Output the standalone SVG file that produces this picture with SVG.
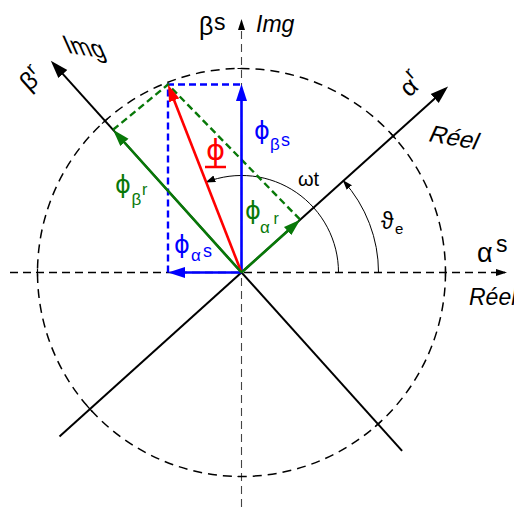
<svg xmlns="http://www.w3.org/2000/svg" width="514" height="507" viewBox="0 0 514 507">
<defs>
<style>
text{font-family:"Liberation Sans","DejaVu Sans",Arial,sans-serif}
.it{font-style:italic}
.phi{font-family:"DejaVu Sans","Liberation Sans",sans-serif}
.dax{stroke:#000;stroke-width:1.3;stroke-dasharray:8 5;fill:none}
.vax{stroke:#444;stroke-width:1.1;stroke-dasharray:8 5;fill:none}
.circ{stroke:#000;stroke-width:1.5;stroke-dasharray:9 6;fill:none}
.rot{stroke:#000;stroke-width:2;fill:none}
.tick{stroke:#000;stroke-width:1.2}
.arc{stroke:#000;stroke-width:1;fill:none}
.vb{stroke:#0000ff;stroke-width:2.6;fill:none}
.vr{stroke:#ff0000;stroke-width:2.6;fill:none}
.vg{stroke:#087808;stroke-width:2.6;fill:none}
.db{stroke:#0000ff;stroke-width:2.4;stroke-dasharray:7 4;fill:none}
.dg{stroke:#087808;stroke-width:2.4;stroke-dasharray:7 4;fill:none}
.tb{fill:#0000ff}
.tr{fill:#ff0000}
.tg{fill:#087808}
</style>
<marker id="mB" markerUnits="userSpaceOnUse" markerWidth="18" markerHeight="12" viewBox="0 -6 18 12" refX="12" refY="0" orient="auto"><path d="M0,-5.5L17,0L0,5.5z" fill="#0000ff"/></marker>
<marker id="mR" markerUnits="userSpaceOnUse" markerWidth="18" markerHeight="12" viewBox="0 -6 18 12" refX="12" refY="0" orient="auto"><path d="M0,-5.5L17,0L0,5.5z" fill="#ff0000"/></marker>
<marker id="mG" markerUnits="userSpaceOnUse" markerWidth="18" markerHeight="12" viewBox="0 -6 18 12" refX="12" refY="0" orient="auto"><path d="M0,-5.5L17,0L0,5.5z" fill="#087808"/></marker>
<marker id="mK" markerUnits="userSpaceOnUse" markerWidth="19" markerHeight="14" viewBox="0 -7 19 14" refX="14" refY="0" orient="auto"><path d="M0,-6L18,0L0,6z" fill="#000"/></marker>
<marker id="mS" markerUnits="userSpaceOnUse" markerWidth="12" markerHeight="8" viewBox="0 -4 12 8" refX="9" refY="0" orient="auto"><path d="M0,-3.5L11,0L0,3.5z" fill="#000"/></marker>
<marker id="mA" markerUnits="userSpaceOnUse" markerWidth="11" markerHeight="8" viewBox="0 -4 11 8" refX="9" refY="0" orient="auto"><path d="M0,-3.5L10,0L0,3.5z" fill="#000"/></marker>
</defs>
<rect width="514" height="507" fill="#fff"/>

<g id="connectors">
  <path class="dax" d="M10,272.5H505" marker-end="url(#mS)"/>
  <path class="vax" d="M241.5,507V21" marker-end="url(#mS)"/>
  <circle class="circ" cx="241.5" cy="272.5" r="204"/>
  <path class="rot" d="M59.5,436.4L445.1,89.2" marker-end="url(#mK)"/>
  <path class="rot" d="M402.1,450.8L53.5,63.7" marker-end="url(#mK)"/>
  <path class="tick" d="M390.4,133L395.8,139M87.2,406L92.6,412M102,123.6L108,118.2M375,426.8L381,421.4M237.5,68.5H245.5M237.5,476.5H245.5M37.5,268.5V276.5M445.5,268.5V276.5"/>
  <path class="arc" d="M338.5,272.5A97,97 0 0 0 206.3,182.1" marker-end="url(#mA)"/>
  <path class="arc" d="M378.5,272.5A137,137 0 0 0 343.3,180.8" marker-end="url(#mA)"/>
  <path class="db" d="M168,272.5V84.5H241.5"/>
  <path class="dg" d="M113,129.8L168,84.5L300.2,219.7"/>
  <path class="vb" d="M241.5,272.5V89" marker-end="url(#mB)"/>
  <path class="vb" d="M241.5,272.5H173" marker-end="url(#mB)"/>
  <path class="vr" d="M241.5,272.5L169.8,89.2" marker-end="url(#mR)"/>
  <path class="vg" d="M241.5,272.5L116.4,133.5" marker-end="url(#mG)"/>
  <path class="vg" d="M241.5,272.5L296.5,223" marker-end="url(#mG)"/>
</g>

<g id="label-beta-s"><text x="199" y="35" font-size="25">β<tspan x="214" y="30" font-size="23">s</tspan></text></g>
<g id="label-img-s"><text class="it" x="256" y="32" font-size="23">Img</text></g>
<g id="label-alpha-s"><text x="477" y="262" font-size="27">α<tspan x="496" y="252" font-size="23">s</tspan></text></g>
<g id="label-reel-s"><text class="it" x="469" y="305" font-size="23">Réel</text></g>

<g id="label-beta-r"><text transform="translate(29,92) rotate(-42)" font-size="25">β<tspan x="14" y="-10" font-size="19">r</tspan></text></g>
<g id="label-img-r"><text transform="translate(68,53) rotate(8) skewX(32)" font-size="24">Img</text></g>
<g id="label-alpha-r"><text transform="translate(409,98) rotate(-42)" font-size="25">α<tspan x="14" y="-12" font-size="19">r</tspan></text></g>
<g id="label-reel-r"><text transform="translate(427,141) rotate(10) skewX(-14)" font-size="24">Réel</text></g>

<g id="label-phi-beta-s"><text class="tb" x="254" y="139" font-size="24"><tspan class="phi">ϕ</tspan><tspan x="270" y="150" font-size="17">β</tspan><tspan x="281" y="146" font-size="18">s</tspan></text></g>
<g id="label-phi-alpha-s"><text class="tb" x="174" y="253" font-size="24"><tspan class="phi">ϕ</tspan><tspan x="191" y="261" font-size="17">α</tspan><tspan x="203" y="257" font-size="18">s</tspan></text></g>
<g id="label-phi-beta-r"><text class="tg" x="115" y="193" font-size="24"><tspan class="phi">ϕ</tspan><tspan x="131.5" y="205" font-size="17">β</tspan><tspan x="142" y="195" font-size="16">r</tspan></text></g>
<g id="label-phi-alpha-r"><text class="tg" x="245" y="219" font-size="24"><tspan class="phi">ϕ</tspan><tspan x="260" y="232.5" font-size="17">α</tspan><tspan x="273.5" y="224" font-size="16">r</tspan></text></g>
<g id="label-phi"><text class="tr phi" x="206" y="160" font-size="29">ϕ</text><line x1="205" y1="167" x2="226" y2="167" stroke="#ff0000" stroke-width="2.5"/></g>

<g id="label-omega-t"><text x="298" y="186" font-size="20">ωt</text></g>
<g id="label-theta-e"><text x="381" y="229" font-size="23">ϑ<tspan x="395" y="234" font-size="15">e</tspan></text></g>
</svg>
